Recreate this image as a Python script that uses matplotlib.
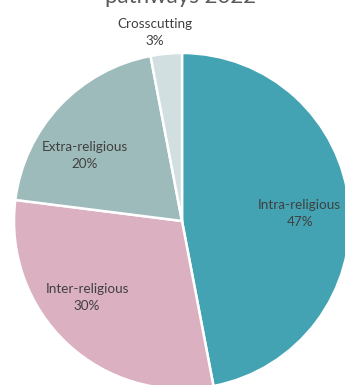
import matplotlib
matplotlib.use('Agg')
import matplotlib.pyplot as plt

# data
labels = ['Intra-religious', 'Inter-religious', 'Extra-religious', 'Crosscutting']
shares = [47, 30, 20, 3]
colors = ['#43A3B2', '#DBB0C1', '#9DBBBA', '#D1DFE0']
title = 'pathways 2022'

plt.rcParams['font.family'] = ['Lato', 'DejaVu Sans']

W, H = 345, 385
cx, cy, r = 182, 221, 168

fig = plt.figure(figsize=(W / 100, H / 100), dpi=100)
ax = fig.add_axes([0, 0, 1, 1])
ax.pie(shares, colors=colors, startangle=90, counterclock=False,
       wedgeprops=dict(edgecolor='white', linewidth=1.8))
ax.set_aspect('auto')
ax.set_xlim(-cx / r, (W - cx) / r)
ax.set_ylim(-(H - cy) / r, cy / r)
ax.axis('off')

# label positions in pie units
pos = [(0.70, 0.045), (-0.565, -0.455), (-0.577, 0.387), (-0.16, 1.12)]
for lab, val, (x, y) in zip(labels, shares, pos):
    ax.text(x, y, f'{lab}\n{val}%', ha='center', va='center', fontsize=9.7,
            color='#404040', linespacing=1.5)

# title sits mostly above the top edge, as in the source image
fig.text(181 / W, 1 - 3 / H, title, ha='center', va='baseline', fontsize=16,
         color='#595959')

fig.savefig('out.png', dpi=100)
